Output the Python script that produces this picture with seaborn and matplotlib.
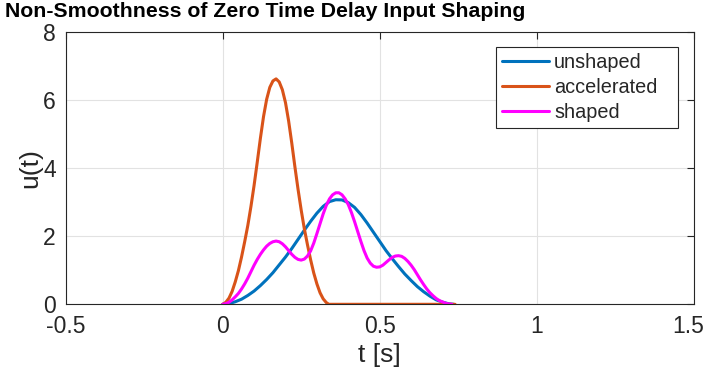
import matplotlib
matplotlib.use("Agg")
import matplotlib.pyplot as plt
from matplotlib.transforms import ScaledTranslation
import seaborn as sns
import pandas as pd

# ---- data ----
t_unshaped = [0.00, 0.02, 0.04, 0.06, 0.08, 0.10, 0.12, 0.14, 0.16, 0.18,
              0.20, 0.22, 0.24, 0.26, 0.28, 0.30, 0.32, 0.34, 0.36, 0.38,
              0.40, 0.42, 0.44, 0.46, 0.48, 0.50, 0.52, 0.54, 0.56, 0.58,
              0.60, 0.62, 0.64, 0.66, 0.68, 0.70, 0.72, 0.736]
u_unshaped = [0.00, 0.02, 0.075, 0.15, 0.26, 0.39, 0.55, 0.73, 0.93, 1.16,
              1.39, 1.64, 1.91, 2.18, 2.44, 2.68, 2.88, 3.02, 3.075, 3.07,
              2.99, 2.85, 2.64, 2.39, 2.12, 1.85, 1.58, 1.34, 1.11, 0.89,
              0.70, 0.52, 0.37, 0.24, 0.13, 0.065, 0.015, 0.00]

t_accel = [0.00, 0.01, 0.02, 0.03, 0.04, 0.05, 0.06, 0.07, 0.08, 0.09,
           0.10, 0.11, 0.12, 0.13, 0.14, 0.15, 0.16, 0.17, 0.18, 0.19,
           0.20, 0.21, 0.22, 0.23, 0.24, 0.25, 0.26, 0.27, 0.28, 0.29,
           0.30, 0.31, 0.32, 0.33, 0.338, 0.74]
u_accel = [0.00, 0.06, 0.18, 0.38, 0.66, 0.99, 1.39, 1.84, 2.32, 2.88,
           3.50, 4.18, 4.88, 5.52, 6.03, 6.38, 6.57, 6.63, 6.54, 6.31,
           5.93, 5.39, 4.74, 4.04, 3.38, 2.77, 2.22, 1.75, 1.31, 0.92,
           0.60, 0.34, 0.16, 0.05, 0.00, 0.00]

t_shaped = [0.00, 0.01, 0.02, 0.03, 0.04, 0.05, 0.06, 0.07, 0.08, 0.09,
            0.10, 0.11, 0.12, 0.13, 0.14, 0.15, 0.16, 0.17, 0.18, 0.19,
            0.20, 0.21, 0.22, 0.23, 0.24, 0.25, 0.26, 0.27, 0.28, 0.29,
            0.30, 0.31, 0.32, 0.33, 0.34, 0.35, 0.36, 0.37, 0.38, 0.39,
            0.40, 0.41, 0.42, 0.43, 0.44, 0.45, 0.46, 0.47, 0.48, 0.49,
            0.50, 0.51, 0.52, 0.53, 0.54, 0.55, 0.56, 0.57, 0.58, 0.59,
            0.60, 0.61, 0.62, 0.63, 0.64, 0.65, 0.66, 0.67, 0.68, 0.69,
            0.70, 0.71, 0.72, 0.73]
u_shaped = [0.00, 0.02, 0.06, 0.13, 0.22, 0.32, 0.45, 0.60, 0.77, 0.96,
            1.15, 1.32, 1.47, 1.60, 1.71, 1.79, 1.84, 1.86, 1.84, 1.78,
            1.69, 1.58, 1.47, 1.38, 1.32, 1.30, 1.33, 1.42, 1.57, 1.80,
            2.08, 2.37, 2.66, 2.91, 3.10, 3.22, 3.28, 3.28, 3.22, 3.10,
            2.93, 2.70, 2.43, 2.14, 1.85, 1.58, 1.36, 1.21, 1.12, 1.09,
            1.10, 1.15, 1.23, 1.31, 1.38, 1.42, 1.43, 1.41, 1.35, 1.26,
            1.15, 1.02, 0.87, 0.72, 0.58, 0.45, 0.34, 0.25, 0.17, 0.11,
            0.07, 0.03, 0.01, 0.00]

labels = ["unshaped", "accelerated", "shaped"]
colors = ["#0072BD", "#D95319", "#FF00FF"]
x_ticks = [-0.5, 0, 0.5, 1, 1.5]
x_ticklabels = ["-0.5", "0", "0.5", "1", "1.5"]
y_ticks = [0, 2, 4, 6, 8]
y_ticklabels = ["0", "2", "4", "6", "8"]
title = "Non-Smoothness of Zero Time Delay Input Shaping"
xlabel = "t [s]"
ylabel = "u(t)"

# ---- style ----
sns.set_theme(style="white")
plt.rcParams["font.family"] = ["Liberation Sans", "DejaVu Sans"]
axis_col = "#262626"

fig = plt.figure(figsize=(7.08, 3.77), dpi=100)
ax = fig.add_axes([65.7 / 708, (377 - 304.3) / 377, 628 / 708, 272 / 377])

series = [(t_unshaped, u_unshaped), (t_accel, u_accel), (t_shaped, u_shaped)]
for (tt, uu), lab, col in zip(series, labels, colors):
    df = pd.DataFrame({"t": tt, "u": uu})
    sns.lineplot(data=df, x="t", y="u", color=col, linewidth=2.2, label=lab,
                 ax=ax, estimator=None)

ax.set_xlim(-0.5, 1.5)
ax.set_ylim(0, 8)
ax.set_xticks(x_ticks)
ax.set_xticklabels(x_ticklabels)
ax.set_yticks(y_ticks)
ax.set_yticklabels(y_ticklabels)
ax.grid(True, color="#e2e2e2", linewidth=0.8)
ax.set_axisbelow(True)
for sp in ax.spines.values():
    sp.set_visible(True)
    sp.set_color(axis_col)
    sp.set_linewidth(0.8)
ax.tick_params(axis="both", direction="in", length=5, width=0.8,
               color=axis_col, labelcolor=axis_col, labelsize=16.5,
               top=True, right=True)
ax.tick_params(axis="x", pad=8)
ax.tick_params(axis="y", pad=7)
# keep the last x tick label inside the figure, as in the reference
last = ax.get_xticklabels()[-1]
last.set_transform(last.get_transform() + ScaledTranslation(-6 / 100, 0, fig.dpi_scale_trans))

ax.set_xlabel(xlabel, fontsize=19, color=axis_col)
ax.set_ylabel(ylabel, fontsize=19, color=axis_col)
ax.xaxis.set_label_coords(0.5, -0.142)
ax.yaxis.set_label_coords(-0.038, 0.5)

leg = ax.legend(loc="upper left", bbox_to_anchor=(0.6852, 0.6555, 0.2898, 0.2915),
                mode="expand", fontsize=14.3, frameon=True, fancybox=False,
                framealpha=1, edgecolor=axis_col, handlelength=2.36,
                handletextpad=0.24, labelspacing=0.30, borderpad=0.32,
                borderaxespad=0.0)
leg.get_frame().set_linewidth(0.8)
for line in leg.get_lines():
    line.set_linewidth(2.2)

fig.text(5 / 708, 1 - 2 / 377, title, fontsize=15.35, fontweight="bold",
         ha="left", va="top", color="black")

fig.savefig("out.png", dpi=100)
